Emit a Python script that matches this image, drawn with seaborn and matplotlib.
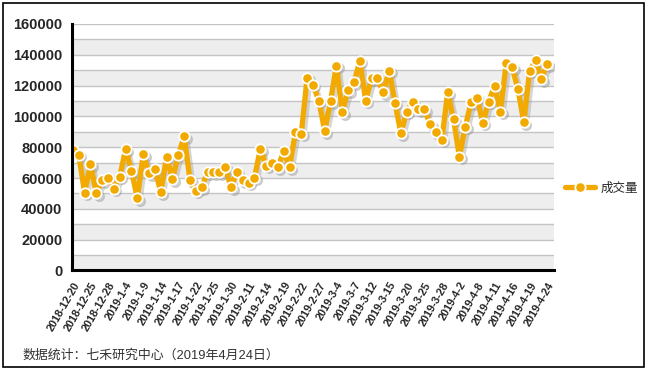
import matplotlib
matplotlib.use("Agg")
import matplotlib.pyplot as plt
import matplotlib.transforms as mtransforms
from matplotlib.patches import Rectangle
import seaborn as sns
import pandas as pd
import numpy as np

# trading days shown on the chart
dates = [
    "2018-12-20", "2018-12-21", "2018-12-24", "2018-12-25", "2018-12-26", "2018-12-27", "2018-12-28",
    "2019-1-2", "2019-1-3", "2019-1-4", "2019-1-7", "2019-1-8", "2019-1-9", "2019-1-10", "2019-1-11",
    "2019-1-14", "2019-1-15", "2019-1-16", "2019-1-17", "2019-1-18", "2019-1-21", "2019-1-22",
    "2019-1-23", "2019-1-24", "2019-1-25", "2019-1-28", "2019-1-29", "2019-1-30", "2019-1-31",
    "2019-2-1", "2019-2-11", "2019-2-12", "2019-2-13", "2019-2-14", "2019-2-15", "2019-2-18",
    "2019-2-19", "2019-2-20", "2019-2-21", "2019-2-22", "2019-2-25", "2019-2-26", "2019-2-27",
    "2019-2-28", "2019-3-1", "2019-3-4", "2019-3-5", "2019-3-6", "2019-3-7", "2019-3-8",
    "2019-3-11", "2019-3-12", "2019-3-13", "2019-3-14", "2019-3-15", "2019-3-18", "2019-3-19",
    "2019-3-20", "2019-3-21", "2019-3-22", "2019-3-25", "2019-3-26", "2019-3-27", "2019-3-28",
    "2019-3-29", "2019-4-1", "2019-4-2", "2019-4-3", "2019-4-4", "2019-4-8", "2019-4-9",
    "2019-4-10", "2019-4-11", "2019-4-12", "2019-4-15", "2019-4-16", "2019-4-17", "2019-4-18",
    "2019-4-19", "2019-4-22", "2019-4-23", "2019-4-24",
]

# 成交量
volume = [
    78000, 75000, 50500, 69000, 50000, 58700, 60200, 53000, 60900, 78800,
    64700, 47000, 75400, 63200, 65800, 50900, 73800, 59200, 75000, 87000,
    58700, 51800, 54000, 63700, 63700, 63700, 67000, 54000, 64000, 58700,
    57000, 60200, 78800, 68000, 69500, 67100, 77300, 67100, 89700, 88800,
    125000, 120400, 110200, 90500, 110000, 133000, 102700, 117100, 122100, 136000,
    110200, 124700, 124700, 115600, 129700, 108900, 89200, 103000, 109500, 104800,
    104500, 95000, 89700, 84700, 115600, 98300, 73800, 93300, 109100, 112200,
    95900, 109500, 120000, 103000, 134500, 131900, 117800, 96200, 129500, 136600,
    124100, 134000,
]

yticks = list(range(0, 160001, 20000))
orange = "#F2A900"

df = pd.DataFrame({"idx": np.arange(len(dates)), "date": dates, "成交量": volume})

sns.set_style("white")
plt.rcParams["font.family"] = ["Liberation Sans", "Noto Sans CJK SC"]

fig = plt.figure(figsize=(6.49, 3.69), dpi=100)
ax = fig.add_axes([0.111, 0.267, 0.743, 0.668])

# alternating bands + gridlines
for k in range(0, 160000, 20000):
    ax.axhspan(k, k + 10000, color="#EEEEEE", lw=0, zorder=0)
for g in range(10000, 160001, 10000):
    ax.axhline(g, color="#C4C4C4", lw=1, zorder=0.5)

# drop shadow
shadow = mtransforms.offset_copy(ax.transData, fig=fig, x=2.5, y=-2.5, units="dots")
ax.plot(df["idx"], df["成交量"], color="#999999", lw=4, alpha=0.4,
        marker="o", ms=7, mec="#999999", transform=shadow, zorder=1)

sns.lineplot(data=df, x="idx", y="成交量", ax=ax, color=orange, lw=3.8,
             marker="o", markersize=7.5, markerfacecolor=orange,
             markeredgecolor="white", markeredgewidth=1.3, label="成交量", zorder=3)

ax.set_xlim(-0.15, 82.2)
ax.set_ylim(0, 160000)
ax.set_yticks(yticks)
ax.set_yticklabels([str(v) for v in yticks], fontsize=10.5, fontweight="bold")
tick_pos = list(range(0, len(dates), 3))
ax.set_xticks(tick_pos)
ax.set_xticklabels([dates[i] for i in tick_pos], rotation=60, ha="right",
                   rotation_mode="anchor", fontsize=7.8, fontweight="bold")
ax.tick_params(axis="both", direction="out", length=5, width=2, color="black", pad=2)
ax.set_xlabel("")
ax.set_ylabel("")

for s in ["top", "right"]:
    ax.spines[s].set_visible(False)
for s in ["left", "bottom"]:
    ax.spines[s].set_linewidth(2.2)
    ax.spines[s].set_color("black")
    ax.spines[s].set_zorder(4)

leg = ax.legend(loc="center left", bbox_to_anchor=(1.0, 0.335), frameon=False,
                handlelength=2.4, handletextpad=0.4,
                prop={"family": ["Noto Sans CJK SC"], "size": 9})

fig.text(0.034, 0.038, "数据统计：七禾研究中心（2019年4月24日）", fontsize=9.3,
         color="#333333", va="center", ha="left")

fig.patches.append(Rectangle((0.004, 0.006), 0.989, 0.986, transform=fig.transFigure,
                             fill=False, edgecolor="black", lw=1.2))

fig.savefig("out.png", dpi=100)
